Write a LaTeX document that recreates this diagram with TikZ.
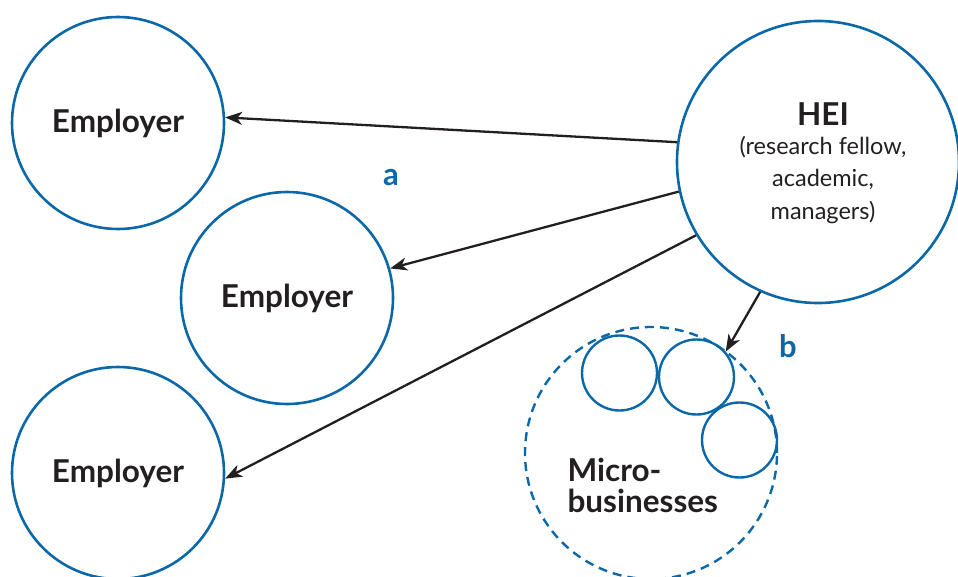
\documentclass[tikz,border=0pt]{standalone}
\usepackage{fontspec}
\setmainfont{Lato}
\usetikzlibrary{arrows.meta}
\definecolor{heiblue}{RGB}{10,104,168}
\definecolor{ink}{RGB}{35,31,32}
\begin{document}
\begin{tikzpicture}[x=1pt,y=-1pt,
  party/.style={circle,draw=heiblue,line width=2.6pt,inner sep=0pt,
    text=ink,font=\fontsize{31.5}{34}\selectfont\bfseries},
  employer/.style={party,minimum size=212pt},
  micro/.style={circle,draw=heiblue,line width=2.4pt,inner sep=0pt,minimum size=75pt},
  cluster/.style={circle,draw=heiblue,line width=2.4pt,dash pattern=on 9pt off 6pt,
    inner sep=0pt,minimum size=252pt},
  link/.style={draw=ink,line width=2.3pt,
    -{Stealth[length=17pt,width=13pt,inset=5pt]}},
  tag/.style={text=heiblue,font=\fontsize{31}{34}\selectfont\bfseries}]
\path[use as bounding box] (0,0) rectangle (958,576);

% employers
\node[employer] (emp1) at (118,123) {Employer};
\node[employer] (emp2) at (287,298) {Employer};
\node[employer] (emp3) at (118,473) {Employer};

% higher education institution
\node[party,minimum size=282pt] (hei) at (818,162) {};
\node[text=ink,font=\fontsize{31.5}{34}\selectfont\bfseries] (heititle) at (823,114) {HEI};
\node[text=ink,align=center,font=\fontsize{23.5}{32.5}\selectfont] (heisub) at (823,180)
  {(research fellow,\\academic,\\managers)};

% micro-business cluster
\node[cluster] (mb) at (651,453) {};
\node[micro] (m1) at (619.5,373) {};
\node[micro] (m2) at (696.5,377) {};
\node[micro] (m3) at (739.5,440) {};
\node[text=ink,align=left,anchor=west,font=\fontsize{31.5}{31}\selectfont\bfseries]
  (mbtxt) at (564,485) {Micro-\\businesses};

% knowledge transfer routes
\draw[link] (hei.172.3) -- (emp1.3.2);
\draw[link] (hei.192.4) -- (emp2.16.2);
\draw[link] (hei.211.4) -- (emp3.-3.7);
\draw[link] (hei.246.1) -- (m2.41.5);

% route labels
\node[tag] (la) at (391,178) {a};
\node[tag] (lb) at (788,346) {b};
\end{tikzpicture}
\end{document}
